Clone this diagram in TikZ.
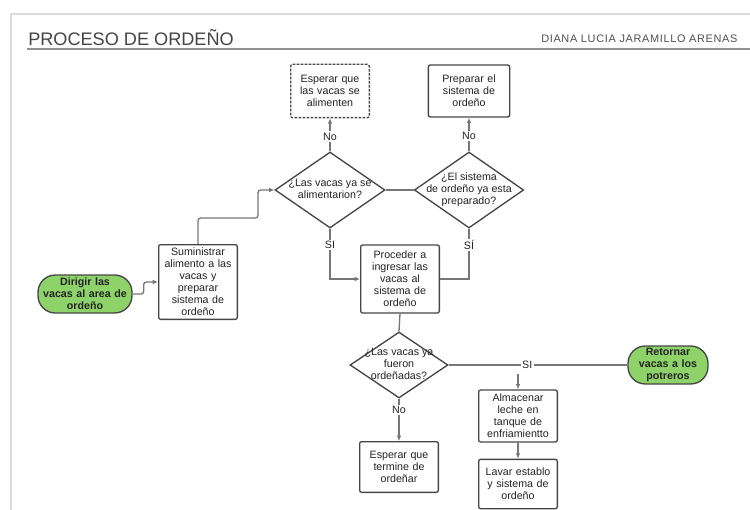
\documentclass[tikz,border=0pt]{standalone}
\usepackage{fontspec}
\setmainfont{Liberation Sans}
\usepackage{tikz}
\usetikzlibrary{shapes.geometric,arrows.meta}

\definecolor{linegray}{RGB}{118,118,118}
\definecolor{boxgray}{RGB}{70,70,70}
\definecolor{textgray}{RGB}{35,35,35}
\definecolor{termgreen}{RGB}{142,210,106}
\definecolor{framegray}{RGB}{218,218,218}

\newcommand{\nodefont}{\fontsize{8}{9}\selectfont}
\newcommand{\dtext}[1]{\makebox[0pt]{\smash{\raisebox{-2pt}{\begin{tabular}{@{}c@{}}#1\end{tabular}}}}}

\begin{document}
\begin{tikzpicture}[x=0.75pt,y=0.75pt,yscale=-1,xscale=1,
  proc/.style={draw=boxgray,line width=1pt,rounded corners=1.5pt,fill=white,
    text=textgray,font=\nodefont,align=center,inner sep=1.5pt,
    text width=56pt,minimum width=59pt},
  waitbox/.style={proc,dash pattern={on 2pt off 1pt}},
  term/.style={proc,fill=termgreen,rounded corners=13pt,font=\nodefont\bfseries},
  decision/.style={diamond,draw=boxgray,line width=1pt,fill=white,text=textgray,
    font=\nodefont,inner sep=0pt},
  conn/.style={draw=linegray,line width=1pt,-{Latex[length=4pt,width=3.5pt]}},
  link/.style={draw=linegray,line width=1pt},
  lbl/.style={fill=white,inner sep=1pt,text=textgray,font=\nodefont}]
\useasboundingbox (0,0) rectangle (750,510);

% page frame and header
\draw [color=framegray,line width=1.5pt] (11,515) -- (11,14) -- (760,14) ;
\draw [color=linegray!80,line width=1.1pt] (27,49) -- (760,49) ;
% Text Node
\node [anchor=west,inner sep=0pt,text=textgray!85,font=\fontsize{13.6}{15}\selectfont] (title) at (28,38) {PROCESO DE ORDEÑO};
% Text Node
\node [anchor=west,inner sep=0pt,text=textgray!80,font=\fontsize{8.2}{9}\selectfont\addfontfeatures{LetterSpace=6}] (author) at (541,39) {DIANA LUCIA JARAMILLO ARENAS};

% flow nodes
\node [term,minimum height=28.5pt,text width=68pt,minimum width=70.5pt,inner sep=1pt] (start) at (85,294) {Dirigir las\\vacas al area de\\ordeño};
\node [proc,minimum height=56pt] (sumin) at (198,282) {Suministrar\\alimento a las\\vacas y\\preparar\\sistema de\\ordeño};
\node [decision,minimum width=82.5pt,minimum height=57pt] (feed) at (330,190) {\dtext{¿Las vacas ya se\\alimentarion?}};
\node [decision,minimum width=82pt,minimum height=57pt] (ready) at (469,190) {\dtext{¿El sistema\\de ordeño ya esta\\preparado?}};
\node [waitbox,minimum height=40pt] (waitfeed) at (330,91) {Esperar que\\las vacas se\\alimenten};
\node [proc,minimum height=39pt,minimum width=61pt] (prep) at (469,91) {Preparar el\\sistema de\\ordeño};
\node [proc,minimum height=51pt] (enter) at (400,279) {Proceder a\\ingresar las\\vacas al\\sistema de\\ordeño};
\node [decision,minimum width=73.5pt,minimum height=49.5pt] (milked) at (399,365) {\dtext{¿Las vacas ya\\fueron\\ordeñadas?}};
\node [proc,minimum height=38pt] (waitmilk) at (399,467) {Esperar que\\termine de\\ordeñar};
\node [term,minimum height=28.5pt,minimum width=60pt,text width=57pt,inner sep=1pt] (back) at (668,365) {Retornar\\vacas a los\\potreros};
\node [proc,minimum height=39pt] (store) at (518,416) {Almacenar\\leche en\\tanque de\\enfriamientto};
\node [proc,minimum height=37pt] (wash) at (518,484) {Lavar establo\\y sistema de\\ordeño};

% bends
\coordinate (b1) at (258,218);
\coordinate (b2) at (518,374);

% connectors
\draw [conn,rounded corners=2pt] (start.east) -- ++(11,0) |- (sumin.west);
\draw [conn,rounded corners=2pt] (sumin.north) |- (b1) |- (feed.west);
\draw [conn] (feed.north) -- node [lbl,pos=0.45] {No} (waitfeed.south);
\draw [conn] (ready.north) -- node [lbl,pos=0.45] {No} (prep.south);
\draw [link] (feed.east) -- (ready.west);
\draw [conn] (feed.south) |- node [lbl,pos=0.16] {SI} (enter.west);
\draw [link] (ready.south) |- node [lbl,pos=0.16] {SÍ} (enter.east);
\draw [link] (enter.south) -- (milked.north);
\draw [conn] (milked.south) -- node [lbl,pos=0.27] {No} (waitmilk.north);
\draw [link] (milked.east) -- node [lbl,pos=0.44] {SI} (back.west);
\draw [conn] (b2) -- (store.north);
\draw [conn] (store.south) -- (wash.north);

\end{tikzpicture}
\end{document}
